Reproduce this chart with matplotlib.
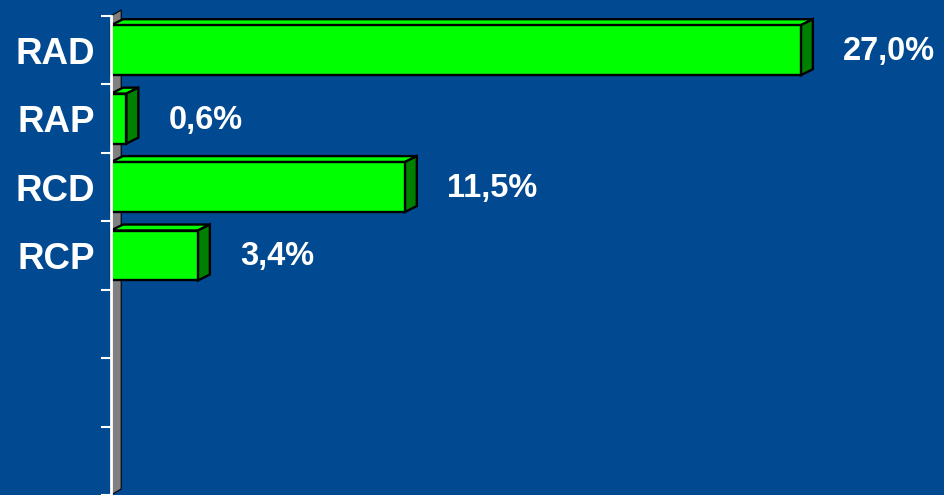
import matplotlib
matplotlib.use("Agg")
import matplotlib.pyplot as plt
from matplotlib.patches import Polygon

categories = ["RAD", "RAP", "RCD", "RCP", "", "", ""]
values = [27.0, 0.6, 11.5, 3.4]
value_labels = ["27,0%", "0,6%", "11,5%", "3,4%"]

BG = "#014990"
FRONT = "#00FF00"
SIDE = "#008000"
WALL = "#808080"
FONT = ["Liberation Sans", "DejaVu Sans"]

W, H, DPI = 944, 495, 100
fig = plt.figure(figsize=(W / DPI, H / DPI), dpi=DPI, facecolor=BG)

px_per_unit = 25.55
x_max = 30.0
left_px, top_px = 111, 16
ax = fig.add_axes([left_px / W, 0, x_max * px_per_unit / W, 1 - top_px / H])
ax.set_facecolor(BG)
n = len(categories)
ax.set_xlim(0, x_max)
ax.set_ylim(n - 0.5, -0.5)

# depth of the 3D extrusion, in data units
dx = 12 / px_per_unit
slot_px = (H - top_px) / n
dy = 6 / slot_px
bar_h = 0.73

# back wall along the category axis
ax.add_patch(Polygon([(0, n - 0.5), (0, -0.5), (dx * 0.85, -0.5 - dy),
                      (dx * 0.85, n - 0.5 - dy)], closed=True,
                     facecolor=WALL, edgecolor="black", lw=0.8,
                     clip_on=False, zorder=1))

for i, (v, lab) in enumerate(zip(values, value_labels)):
    top = i - bar_h / 2
    bot = i + bar_h / 2
    kw = dict(closed=True, edgecolor="black", lw=1.7, joinstyle="miter",
              clip_on=False, zorder=3)
    ax.add_patch(Polygon([(0, top), (dx, top - dy), (v + dx, top - dy), (v, top)],
                         facecolor=FRONT, **kw))
    ax.add_patch(Polygon([(v, top), (v + dx, top - dy), (v + dx, bot - dy), (v, bot)],
                         facecolor=SIDE, **kw))
    ax.add_patch(Polygon([(0, top), (v, top), (v, bot), (0, bot)],
                         facecolor=FRONT, **kw))
    ax.annotate(lab, xy=(v, i + 0.02), xytext=(42, 0), textcoords="offset pixels",
                ha="left", va="center", color="white", fontsize=23.5,
                fontweight="bold", family=FONT, annotation_clip=False)

ax.set_yticks(range(n))
ax.set_yticklabels(categories, family=FONT, fontsize=26.5, fontweight="bold",
                   color="white")
ax.set_yticks([k - 0.5 for k in range(n + 1)], minor=True)
ax.tick_params(axis="y", which="major", length=0, pad=11.5)
ax.tick_params(axis="y", which="minor", length=7, width=1.5, color="white",
               direction="out")
ax.set_xticks([])
for s in ["top", "right", "bottom"]:
    ax.spines[s].set_visible(False)
ax.spines["left"].set_color("white")
ax.spines["left"].set_linewidth(2)
ax.spines["left"].set_zorder(4)

fig.savefig("out.png", dpi=DPI, facecolor=BG)
